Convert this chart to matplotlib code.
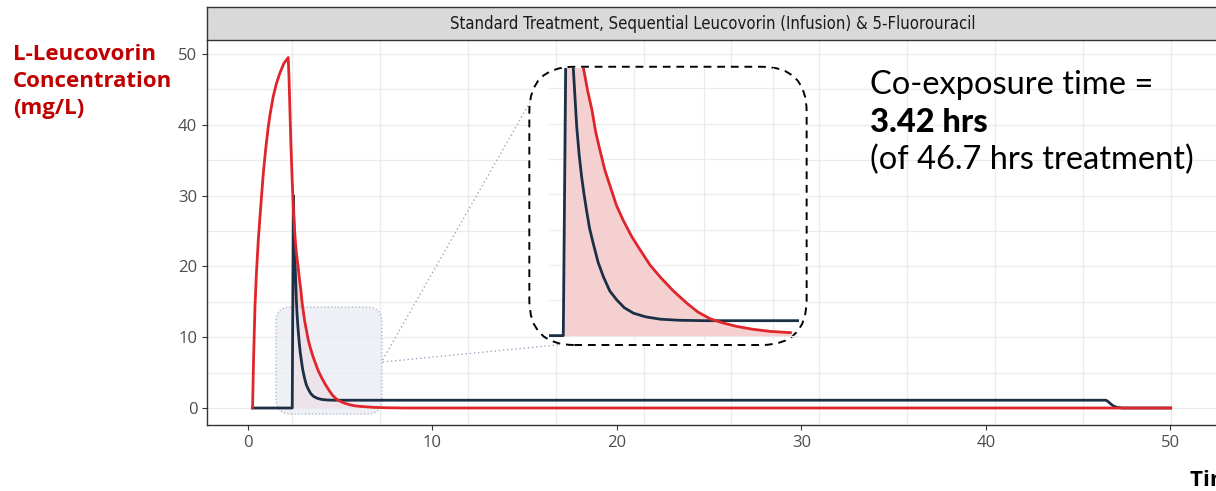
import numpy as np
import matplotlib.pyplot as plt
from matplotlib.patches import FancyBboxPatch

# L-leucovorin (red) and 5-FU (dark) concentration
red_t = [0.25, 0.30, 0.38, 0.45, 0.56, 0.68, 0.83, 0.95, 1.10, 1.20, 1.37, 1.55, 1.73, 1.95, 2.18,
         2.22, 2.27, 2.33, 2.40, 2.47, 2.54, 2.62, 2.73, 2.80, 2.87, 2.93, 3.00, 3.08,
         3.17, 3.27, 3.38, 3.52, 3.66, 3.82, 3.99, 4.20, 4.42, 4.60, 4.80, 5.00, 5.24,
         5.50, 5.79, 6.12, 6.80, 7.60, 8.50, 50.0]
red_c = [0.0, 6.5, 14.3, 18.6, 23.7, 28.0, 33.1, 36.3, 39.7, 41.5, 44.0, 45.9, 47.3, 48.7, 49.5,
         47.0, 42.5, 37.0, 32.0, 27.5, 24.5, 22.0, 19.7, 18.0, 16.6, 15.0, 13.65, 12.2,
         10.96, 9.6, 8.5, 7.3, 6.3, 5.2, 4.3, 3.3, 2.4, 1.75, 1.25, 0.95, 0.68,
         0.47, 0.31, 0.22, 0.09, 0.03, 0.0, 0.0]

fu_t = [0.25, 2.40, 2.46, 2.49, 2.525, 2.564, 2.62, 2.66, 2.70, 2.74, 2.78, 2.83, 2.89,
        2.97, 3.056, 3.16, 3.275, 3.40, 3.55, 3.75, 3.99, 4.30, 4.70,
        46.5, 46.6, 46.75, 46.9, 47.1, 47.4, 50.0]
fu_c = [0.0, 0.0, 30.0, 26.5, 22.8, 19.66, 15.37, 13.3, 11.7, 10.4, 9.24, 7.9, 6.79,
        5.4, 4.34, 3.3, 2.63, 2.05, 1.65, 1.38, 1.21, 1.13, 1.10,
        1.10, 0.95, 0.6, 0.3, 0.1, 0.0, 0.0]

co_start, co_end = 2.40, 6.12
x_ticks = [0, 10, 20, 30, 40, 50]
y_ticks = [0, 10, 20, 30, 40, 50]

W, H = 1216, 491
RED = '#e0252b'
NAVY = '#1b3047'
PINK = '#f5d0d1'
GRID = '#ebebeb'


def fx(x):
    return x / W


def fy(y):
    return 1 - y / H


fig = plt.figure(figsize=(W / 100, H / 100), dpi=100)

# main panel
ax = fig.add_axes([fx(207), fy(425), fx(1219 - 207), (425 - 40) / H])
ax.set_xlim(-2.22, 52.63)
ax.set_ylim(-2.40, 51.98)
for v in np.arange(0, 51, 5):
    ax.axhline(v, color=GRID, lw=0.9, zorder=0)
for v in np.linspace(2.38, 50.03, 11):
    ax.axvline(v, color=GRID, lw=0.9, zorder=0)

rt = np.array(red_t)
rc = np.array(red_c)
mask = (rt >= co_start) & (rt <= co_end)
ax.fill_between(rt[mask], 0, rc[mask], color=PINK, lw=0, zorder=1)
ax.plot(fu_t, fu_c, color=NAVY, lw=2.0, zorder=3, solid_joinstyle='round')
ax.plot(red_t, red_c, color=RED, lw=2.0, zorder=4, solid_joinstyle='round')

ax.set_xticks(x_ticks)
ax.set_yticks(y_ticks)
ax.tick_params(colors='#333333', labelcolor='#4d4d4d', labelsize=12, length=3.5, width=0.8)
for lab in ax.get_xticklabels() + ax.get_yticklabels():
    lab.set_fontfamily(['Open Sans', 'DejaVu Sans'])
for s in ['top', 'right']:
    ax.spines[s].set_visible(False)
for s in ['left', 'bottom']:
    ax.spines[s].set_color('#333333')
    ax.spines[s].set_linewidth(1.0)


def inches(x0, y0, x1, y1):
    p0 = ax.transData.transform((x0, y0)) / fig.dpi
    p1 = ax.transData.transform((x1, y1)) / fig.dpi
    return p0[0], p0[1], p1[0] - p0[0], p1[1] - p0[1]


# zoom source box
bx, by, bw, bh = inches(1.52, -0.85, 7.26, 14.27)
src = FancyBboxPatch((bx + 0.15, by + 0.15), bw - 0.3, bh - 0.3,
                     boxstyle='round,pad=0.15,rounding_size=0.15',
                     transform=fig.dpi_scale_trans, facecolor='#e9ecf3', alpha=0.75,
                     edgecolor='#9aa6c0', lw=1.0, linestyle=(0, (1, 1.5)), zorder=2)
ax.add_patch(src)

# connectors
ax.plot([7.3, 15.75], [6.8, 45.3], color='#9aa6c0', lw=1.0, ls=(0, (1, 2)), zorder=2)
ax.plot([7.3, 16.9], [6.5, 8.95], color='#9aa6c0', lw=1.0, ls=(0, (1, 2)), zorder=2)

# inset frame
ix, iy, iw, ih = inches(15.25, 8.9, 30.28, 48.2)
frame = FancyBboxPatch((ix + 0.45, iy + 0.45), iw - 0.9, ih - 0.9,
                       boxstyle='round,pad=0.45,rounding_size=0.45',
                       transform=fig.dpi_scale_trans, facecolor='white',
                       edgecolor='black', lw=1.4, linestyle=(0, (4, 3)), zorder=5)
fig.add_artist(frame)

# inset axes
ins = fig.add_axes([fx(549), fy(339.7), fx(799 - 549), (339.7 - 68) / H], zorder=6)
ins.patch.set_alpha(0)
ins.set_xlim(2.166, 6.26)
ins.set_ylim(-0.3, 19.7)
for v in np.arange(0, 19.7, 2.6):
    ins.axhline(v, color=GRID, lw=0.9, zorder=0)
for v in [3.55, 4.70, 5.84]:
    ins.axvline(v, color=GRID, lw=0.9, zorder=0)
ins.fill_between(rt[mask], 0, rc[mask], color=PINK, lw=0, zorder=1)
ins.plot(fu_t, fu_c, color=NAVY, lw=2.0, zorder=3, solid_joinstyle='round')
ins_mask = rt <= co_end
ins.plot(rt[ins_mask], rc[ins_mask], color=RED, lw=2.0, zorder=4, solid_joinstyle='round')
ins.set_xticks([])
ins.set_yticks([])
for s in ins.spines.values():
    s.set_visible(False)

# facet strip
strip = fig.add_axes([fx(207), fy(40), fx(1219 - 207), 33 / H])
strip.set_facecolor('#d9d9d9')
strip.set_xticks([])
strip.set_yticks([])
for s in strip.spines.values():
    s.set_color('#333333')
    s.set_linewidth(1.0)
strip.text(0.5, 0.48, 'Standard Treatment, Sequential Leucovorin (Infusion) & 5-Fluorouracil',
           ha='center', va='center', fontsize=12, color='#1a1a1a', fontstretch='condensed',
           family=['DejaVu Sans'], transform=strip.transAxes)

# y label
fig.text(fx(13), fy(44), 'L-Leucovorin\nConcentration\n(mg/L)', ha='left', va='top',
         fontsize=16, fontweight='bold', color='#c00000', linespacing=1.38,
         family=['Open Sans', 'DejaVu Sans'])

# co-exposure annotation
fig.text(fx(870), fy(85), 'Co-exposure time =', ha='left', va='center', fontsize=23.5,
         color='black', family=['Lato', 'DejaVu Sans'])
fig.text(fx(870), fy(123), '3.42 hrs', ha='left', va='center', fontsize=23.5,
         fontweight='black', color='black', family=['Lato', 'DejaVu Sans'])
fig.text(fx(870), fy(160), '(of 46.7 hrs treatment)', ha='left', va='center', fontsize=23.5,
         color='black', family=['Lato', 'DejaVu Sans'])

fig.text(fx(1190), fy(480), 'Time (hrs)', ha='left', va='center', fontsize=16,
         fontweight='bold', color='black', family=['Open Sans', 'DejaVu Sans'])

fig.savefig('out.png', dpi=100)
